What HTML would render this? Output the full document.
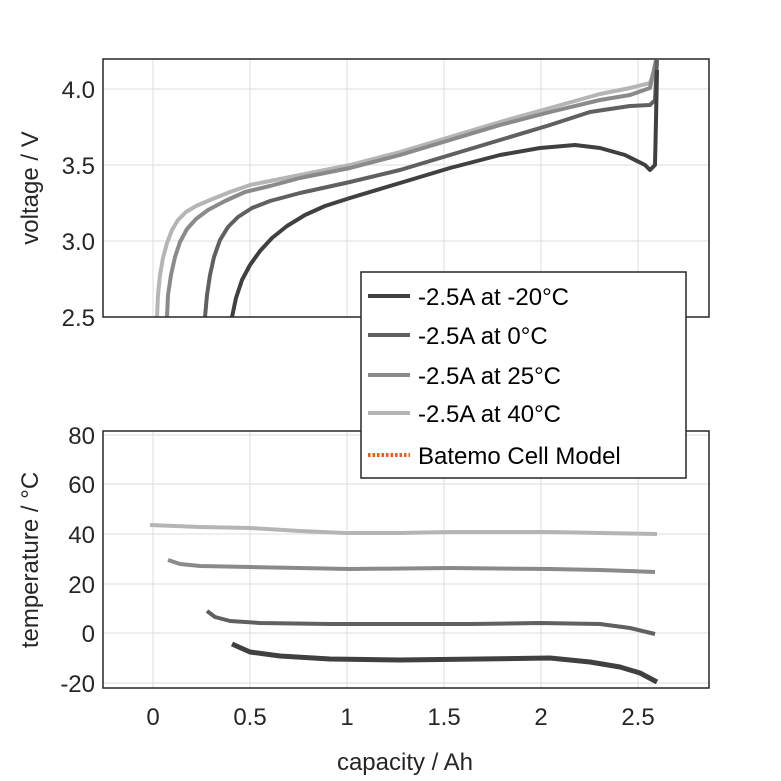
<!DOCTYPE html>
<html><head><style>body{margin:0;background:#fff}svg{display:block}text{font-family:"Liberation Sans",sans-serif;fill:#262626}</style></head><body>
<svg width="781" height="781" viewBox="0 0 781 781">
<rect width="781" height="781" fill="#fff"/>
<g stroke="#dcdcdc" stroke-width="1">
<line x1="153" y1="59" x2="153" y2="317"/><line x1="250" y1="59" x2="250" y2="317"/><line x1="347" y1="59" x2="347" y2="317"/><line x1="444" y1="59" x2="444" y2="317"/><line x1="541" y1="59" x2="541" y2="317"/><line x1="638" y1="59" x2="638" y2="317"/>
<line x1="103" y1="89" x2="709" y2="89"/><line x1="103" y1="165" x2="709" y2="165"/><line x1="103" y1="241" x2="709" y2="241"/>
<line x1="153" y1="431" x2="153" y2="688"/><line x1="250" y1="431" x2="250" y2="688"/><line x1="347" y1="431" x2="347" y2="688"/><line x1="444" y1="431" x2="444" y2="688"/><line x1="541" y1="431" x2="541" y2="688"/><line x1="638" y1="431" x2="638" y2="688"/>
<line x1="103" y1="435" x2="709" y2="435"/><line x1="103" y1="484" x2="709" y2="484"/><line x1="103" y1="534" x2="709" y2="534"/><line x1="103" y1="584" x2="709" y2="584"/><line x1="103" y1="633" x2="709" y2="633"/><line x1="103" y1="683" x2="709" y2="683"/>
</g>
<g fill="none" stroke-width="4" stroke-linejoin="round">
<polyline stroke="#b5b5b5" points="157,317 158,295 160,275 163,258 167,243 172,230 178,220 186,212 196,206 210,200 230,192 250,185 300,175 350,165 400,152 450,137 500,122 550,108 600,94 630,88 650,83 657,62"/>
<polyline stroke="#8a8a8a" points="167,317 168,295 171,275 175,257 180,242 187,229 196,219 208,210 225,201 245,192 270,186 300,178 350,168 400,155 450,140 500,125 550,112 600,100 630,95 650,88 656,60"/>
<polyline stroke="#606060" points="205,317 207,295 210,275 214,257 220,240 228,227 238,217 252,208 270,201 300,193 350,182 400,170 450,155 500,140 550,125 590,112 630,106 650,105 655,100 657,60"/>
<polyline stroke="#404040" points="232,317 236,298 242,280 250,265 260,251 272,238 287,226 305,215 325,206 350,198 400,183 450,168 500,155 540,148 575,145 600,148 625,155 645,165 650,170 655,165 656,120 657,70"/>
<polyline stroke="#b5b5b5" points="150,525 200,527 250,528 300,531 345,533 400,533 450,532 500,532 550,532 600,533 657,534"/>
<polyline stroke="#8a8a8a" points="168,560 180,564 200,566 250,567 350,569 450,568 550,569 600,570 655,572"/>
<polyline stroke="#606060" points="207,611 215,617 230,621 260,623 330,624 400,624 470,624 540,623 600,624 630,628 655,634"/>
<polyline stroke="#404040" stroke-width="5" points="232,644 250,652 280,656 330,659 400,660 480,659 550,658 590,662 620,667 640,673 657,682"/>
</g>
<g fill="none" stroke="#262626" stroke-width="1.5">
<rect x="103" y="59" width="606" height="258"/>
<rect x="103" y="431" width="606" height="257"/>
</g>
<g font-size="24" text-anchor="end">
<text x="95" y="98">4.0</text><text x="95" y="174">3.5</text><text x="95" y="250">3.0</text><text x="95" y="326">2.5</text>
<text x="95" y="444">80</text><text x="95" y="493">60</text><text x="95" y="543">40</text><text x="95" y="593">20</text><text x="95" y="642">0</text><text x="95" y="692">-20</text>
</g>
<g font-size="24" text-anchor="middle">
<text x="153" y="725">0</text><text x="250" y="725">0.5</text><text x="347" y="725">1</text><text x="444" y="725">1.5</text><text x="541" y="725">2</text><text x="638" y="725">2.5</text>
<text x="405" y="770">capacity / Ah</text>
<text transform="translate(38,188) rotate(-90)">voltage / V</text>
<text transform="translate(38,560) rotate(-90)">temperature / °C</text>
</g>
<rect x="361" y="272" width="325" height="206" fill="#fff" stroke="#262626" stroke-width="1.5"/>
<g stroke-width="4">
<line x1="368" y1="296" x2="410" y2="296" stroke="#404040"/>
<line x1="368" y1="335" x2="410" y2="335" stroke="#606060"/>
<line x1="368" y1="375" x2="410" y2="375" stroke="#8a8a8a"/>
<line x1="368" y1="413" x2="410" y2="413" stroke="#b5b5b5"/>
<line x1="368" y1="455" x2="410" y2="455" stroke="#f05a14" stroke-dasharray="2.5,2"/>
</g>
<g font-size="24">
<text x="418" y="305" style="fill:#000">-2.5A at -20°C</text>
<text x="418" y="344" style="fill:#000">-2.5A at 0°C</text>
<text x="418" y="384" style="fill:#000">-2.5A at 25°C</text>
<text x="418" y="422" style="fill:#000">-2.5A at 40°C</text>
<text x="418" y="464" style="fill:#000">Batemo Cell Model</text>
</g>
</svg>
</body></html>
